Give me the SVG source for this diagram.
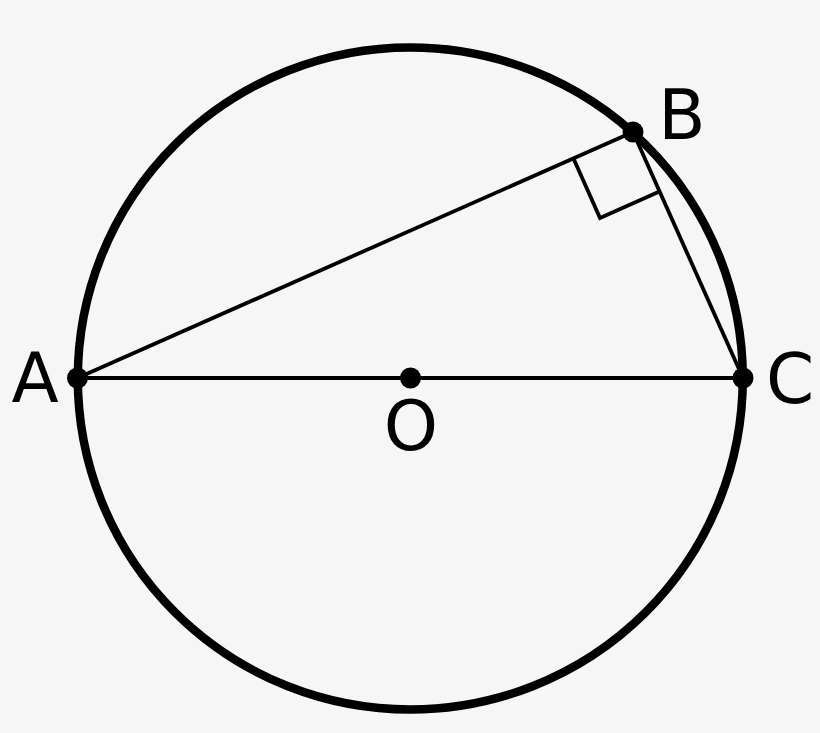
<svg xmlns="http://www.w3.org/2000/svg" width="820" height="733" viewBox="0 0 820 733">
<style>
.ln{stroke:#000;stroke-width:3.8;fill:none}
.dot{fill:#000}
.lbl{font-family:"DejaVu Sans",sans-serif;font-size:69px;fill:#000;text-anchor:middle}
</style>
<rect width="820" height="733" fill="#f6f6f6"/>
<g id="connectors">
<line class="ln" x1="77.5" y1="378" x2="743" y2="378"/>
<line class="ln" x1="77.5" y1="378" x2="633" y2="132"/>
<line class="ln" x1="633" y1="132" x2="743" y2="378"/>
<polyline class="ln" points="573.5,158.5 600,218 659.5,191.5"/>
</g>
<g id="circle"><ellipse cx="410.3" cy="378.5" rx="332.5" ry="331" fill="none" stroke="#000" stroke-width="8.5"/></g>
<g id="A"><circle class="dot" cx="77.5" cy="378" r="10.5"/><text class="lbl" x="35" y="402">A</text></g>
<g id="B"><circle class="dot" cx="633" cy="132" r="10.5"/><text class="lbl" x="682" y="139">B</text></g>
<g id="C"><circle class="dot" cx="743" cy="378" r="10.5"/><text class="lbl" x="790" y="403">C</text></g>
<g id="O"><circle class="dot" cx="410.5" cy="378" r="10.5"/><text class="lbl" x="411" y="450">O</text></g>
</svg>
